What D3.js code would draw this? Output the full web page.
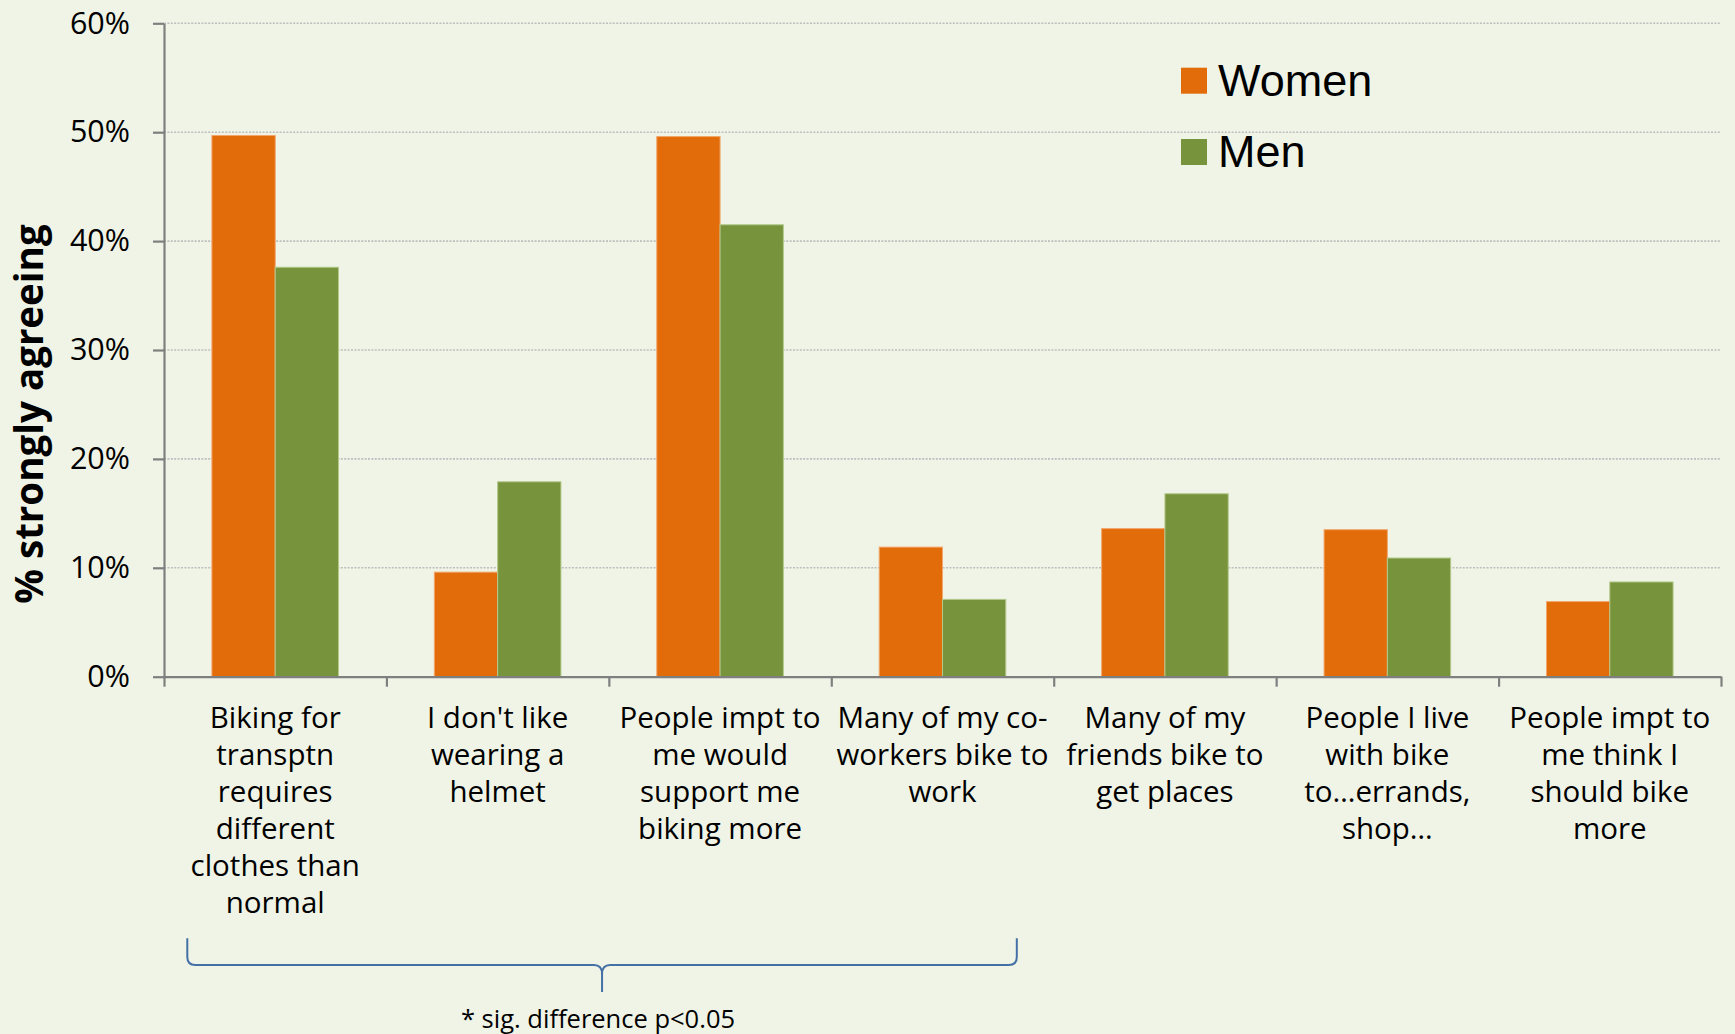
<!DOCTYPE html>
<html>
<head>
<meta charset="utf-8">
<script src="https://cdn.jsdelivr.net/npm/d3@7"></script>
<style>
  html, body { margin: 0; padding: 0; background: #F0F4E7; }
  svg { display: block; }
</style>
</head>
<body>
<svg id="chart" width="1735" height="1034"></svg>
<script>
// Survey statements (wrapped as shown on the axis)
const categories = [
  ["Biking for", "transptn", "requires", "different", "clothes than", "normal"],
  ["I don't like", "wearing a", "helmet"],
  ["People impt to", "me would", "support me", "biking more"],
  ["Many of my co-", "workers bike to", "work"],
  ["Many of my", "friends bike to", "get places"],
  ["People I live", "with bike", "to…errands,", "shop…"],
  ["People impt to", "me think I", "should bike", "more"]
];
const seriesNames = ["Women", "Men"];
const women = [49.7, 9.6, 49.6, 11.9, 13.6, 13.5, 6.9];
const men   = [37.6, 17.9, 41.5, 7.1, 16.8, 10.9, 8.7];
const yTicks = [0, 10, 20, 30, 40, 50, 60];
const yTitle = "% strongly agreeing";
const noteText = "* sig. difference p<0.05";

const colors = { Women: "#E36C0A", Men: "#77933C" };
const outlines = { Women: "#F2A66A", Men: "#B4C98C" };

const svg = d3.select("#chart");
svg.append("rect").attr("width", 1735).attr("height", 1034).attr("fill", "#F0F4E7");

const plotLeft = 164, plotRight = 1721, plotTop = 23.3, plotBottom = 676.7;

const y = d3.scaleLinear().domain([0, 60]).range([plotBottom, plotTop]);
const idx = d3.range(categories.length);
const x0 = d3.scaleBand().domain(idx).range([plotLeft, plotRight]).padding(0);
const x1 = d3.scaleBand().domain(seriesNames).range([0, x0.bandwidth()])
  .paddingInner(0).paddingOuter(0.757);
const xb = d3.scaleLinear().domain([0, categories.length]).range([plotLeft, plotRight]);

// dotted gridlines
svg.append("g").selectAll("line")
  .data(yTicks.filter(d => d > 0))
  .join("line")
  .attr("x1", plotLeft).attr("x2", plotRight)
  .attr("y1", d => y(d)).attr("y2", d => y(d))
  .attr("stroke", "#BDBDBD").attr("stroke-width", 1.6)
  .attr("stroke-dasharray", "2,1.4");

// bars
const rows = idx.map(i => ({ i, Women: women[i], Men: men[i] }));
const groups = svg.append("g").selectAll("g")
  .data(rows).join("g")
  .attr("transform", d => `translate(${x0(d.i)},0)`);
groups.selectAll("rect")
  .data(d => seriesNames.map(s => ({ s, v: d[s] })))
  .join("rect")
  .attr("x", d => x1(d.s))
  .attr("width", x1.bandwidth())
  .attr("y", d => y(d.v))
  .attr("height", d => y(0) - y(d.v))
  .attr("fill", d => colors[d.s])
  .attr("stroke", d => outlines[d.s])
  .attr("stroke-width", 1);

// y axis
const yAxis = svg.append("g")
  .attr("transform", `translate(${plotLeft},0)`)
  .call(d3.axisLeft(y).tickValues(yTicks).tickFormat(d => d + "%")
    .tickSize(11).tickSizeOuter(0).tickPadding(23));
yAxis.select(".domain").attr("stroke", "#7F7F7F").attr("stroke-width", 2.2);
yAxis.selectAll(".tick line").attr("stroke", "#7F7F7F").attr("stroke-width", 2.2);
yAxis.selectAll(".tick text")
  .attr("font-family", "'Open Sans', sans-serif").attr("font-size", 30.5)
  .attr("fill", "#000");

// x axis with ticks on category boundaries
const xAxis = svg.append("g")
  .attr("transform", `translate(0,${plotBottom})`)
  .call(d3.axisBottom(xb).tickValues(d3.range(categories.length + 1))
    .tickFormat("").tickSize(10).tickSizeOuter(0));
xAxis.select(".domain").attr("stroke", "#7F7F7F").attr("stroke-width", 2.2);
xAxis.selectAll(".tick line").attr("stroke", "#7F7F7F").attr("stroke-width", 2.2);

// category labels
const catG = svg.append("g")
  .attr("font-family", "'Open Sans', sans-serif")
  .attr("font-size", 29.5)
  .attr("text-anchor", "middle")
  .attr("fill", "#000");
catG.selectAll("text")
  .data(categories)
  .join("text")
  .attr("x", (d, i) => x0(i) + x0.bandwidth() / 2)
  .attr("y", 727.7)
  .selectAll("tspan")
  .data(d => d)
  .join("tspan")
  .attr("x", function () { return this.parentNode.getAttribute("x"); })
  .attr("dy", (d, j) => j === 0 ? 0 : 37)
  .text(d => d);

// y axis title
svg.append("text")
  .attr("transform", "translate(43,414) rotate(-90)")
  .attr("text-anchor", "middle")
  .attr("font-family", "'Open Sans', sans-serif")
  .attr("font-weight", 700)
  .attr("font-size", 38.5)
  .attr("fill", "#000")
  .text(yTitle);

// legend
const legend = svg.append("g").selectAll("g")
  .data(seriesNames).join("g")
  .attr("transform", (d, i) => `translate(1181,${67.7 + i * 71.3})`);
legend.append("rect")
  .attr("width", 26).attr("height", 26)
  .attr("fill", d => colors[d]);
legend.append("text")
  .attr("x", 37).attr("y", 28)
  .attr("font-family", "'Liberation Sans', Arial, sans-serif")
  .attr("font-size", 45)
  .attr("fill", "#000")
  .text(d => d);

// brace spanning the first four statements
const bl = 187.3, br = 1016.8, bm = (bl + br) / 2, bt = 938.3, bh = 965, btip = 992;
svg.append("path")
  .attr("d", `M${bl},${bt} V${bh - 8} Q${bl},${bh} ${bl + 8},${bh} H${bm - 8} Q${bm},${bh} ${bm},${bh + 9} V${btip}
              M${bm},${bh + 9} Q${bm},${bh} ${bm + 8},${bh} H${br - 8} Q${br},${bh} ${br},${bh - 8} V${bt}`)
  .attr("fill", "none")
  .attr("stroke", "#4570A6")
  .attr("stroke-width", 2);

svg.append("text")
  .attr("x", 598).attr("y", 1027.5)
  .attr("text-anchor", "middle")
  .attr("font-family", "'Open Sans', sans-serif")
  .attr("font-size", 25.5)
  .attr("fill", "#000")
  .text(noteText);
</script>
</body>
</html>
